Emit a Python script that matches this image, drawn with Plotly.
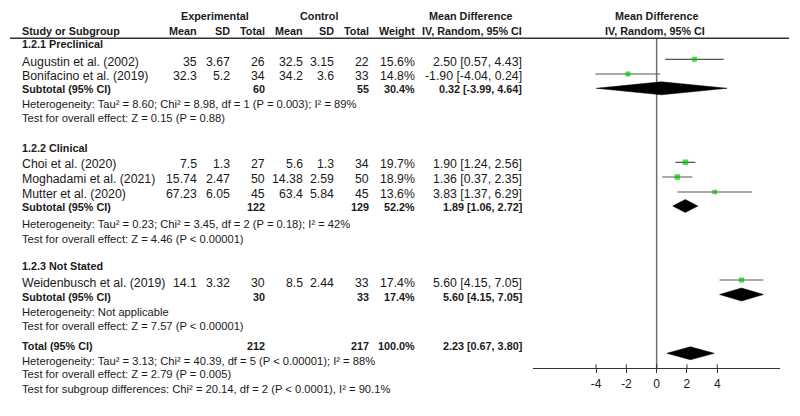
import plotly.graph_objects as go

# ---------------- data ----------------
studies = ["Augustin et al. (2002)", "Bonifacino et al. (2019)", "Choi et al. (2020)",
           "Moghadami et al. (2021)", "Mutter et al. (2020)", "Weidenbusch et al. (2019)"]
exp_mean = [35, 32.3, 7.5, 15.74, 67.23, 14.1]
exp_sd = [3.67, 5.2, 1.3, 2.47, 6.05, 3.32]
exp_n = [26, 34, 27, 50, 45, 30]
ctl_mean = [32.5, 34.2, 5.6, 14.38, 63.4, 8.5]
ctl_sd = [3.15, 3.6, 1.3, 2.59, 5.84, 2.44]
ctl_n = [22, 33, 34, 50, 45, 33]
weight = [15.6, 14.8, 19.7, 18.9, 13.6, 17.4]
md = [2.50, -1.90, 1.90, 1.36, 3.83, 5.60]
md_lo = [0.57, -4.04, 1.24, 0.37, 1.37, 4.15]
md_hi = [4.43, 0.24, 2.56, 2.35, 6.29, 7.05]

groups = ["1.2.1 Preclinical", "1.2.2 Clinical", "1.2.3 Not Stated"]
sub_exp_n = [60, 122, 30]
sub_ctl_n = [55, 129, 33]
sub_weight = [30.4, 52.2, 17.4]
sub_md = [0.32, 1.89, 5.60]
sub_lo = [-3.99, 1.06, 4.15]
sub_hi = [4.64, 2.72, 7.05]
sub_het = ["Heterogeneity: Tau² = 8.60; Chi² = 8.98, df = 1 (P = 0.003); I² = 89%",
           "Heterogeneity: Tau² = 0.23; Chi² = 3.45, df = 2 (P = 0.18); I² = 42%",
           "Heterogeneity: Not applicable"]
sub_test = ["Test for overall effect: Z = 0.15 (P = 0.88)",
            "Test for overall effect: Z = 4.46 (P < 0.00001)",
            "Test for overall effect: Z = 7.57 (P < 0.00001)"]

total_exp_n = 212
total_ctl_n = 217
total_weight = 100.0
total_md = 2.23
total_lo = 0.67
total_hi = 3.80
total_notes = ["Heterogeneity: Tau² = 3.13; Chi² = 40.39, df = 5 (P < 0.00001); I² = 88%",
               "Test for overall effect: Z = 2.79 (P = 0.005)",
               "Test for subgroup differences: Chi² = 20.14, df = 2 (P < 0.0001), I² = 90.1%"]

tick_vals = [-4, -2, 0, 2, 4]
tick_text = ["-4", "-2", "0", "2", "4"]

# ---------------- layout (pixel rows) ----------------
W, H = 800, 416
study_y = [61.7, 76.0, 164.3, 179.3, 194.0, 283.3]
group_title_y = [44.3, 147.7, 265.7]
sub_y = [89.3, 207.3, 297.0]
sub_het_y = [104.3, 224.0, 311.7]
sub_test_y = [118.3, 238.7, 326.0]
total_y = 346.0
total_notes_y = [361.0, 374.3, 389.3]
marker_y = [59.3, 74.0, 162.3, 177.0, 192.0, 280.0]
diamond_y = [88.3, 206.0, 294.5]
total_diamond_y = 353.3
axis_y = 368.3
header_line_y = 38.3
dh = 6.5

col_left = 20
col_right = {"em": 199.3, "esd": 232.3, "en": 266.7, "cm": 305.0, "csd": 335.7,
             "cn": 370.7, "w": 416.7, "md": 524.3}

FONT = "Liberation Sans, Arial, sans-serif"
FS = 12.3
FS_BOLD = 10.8
FS_NOTE = 11.2
TXT = "#1a1a1a"

fig = go.Figure()
ann = []


def txt(x, y, s, align="left", bold=False, size=None):
    if size is None:
        size = FS_BOLD if bold else FS
    if bold:
        s = "<b>" + s + "</b>"
    ann.append(dict(x=x / W, y=y, xref="paper", yref="y", text=s, showarrow=False,
                    xanchor=align, yanchor="middle",
                    font=dict(family=FONT, size=size, color=TXT)))


def fmt(v):
    return f"{v:g}"


def ci(m, l, h):
    return f"{m:.2f} [{l:.2f}, {h:.2f}]"


# headers
txt(214.7, 15.7, "Experimental", "center", True)
txt(318.5, 15.7, "Control", "center", True)
txt(470.0, 15.7, "Mean Difference", "center", True)
txt(656.3, 15.7, "Mean Difference", "center", True)
txt(col_left, 30.7, "Study or Subgroup", "left", True)
for key, lab in [("em", "Mean"), ("esd", "SD"), ("en", "Total"), ("cm", "Mean"),
                 ("csd", "SD"), ("cn", "Total"), ("w", "Weight"), ("md", "IV, Random, 95% CI")]:
    txt(col_right[key], 30.7, lab, "right", True)
txt(655.0, 30.7, "IV, Random, 95% CI", "center", True)

# group titles and study rows
for g, name in enumerate(groups):
    txt(col_left, group_title_y[g], name, "left", True)
for i, s in enumerate(studies):
    y = study_y[i]
    txt(col_left, y, s)
    txt(col_right["em"], y, fmt(exp_mean[i]), "right")
    txt(col_right["esd"], y, fmt(exp_sd[i]), "right")
    txt(col_right["en"], y, str(exp_n[i]), "right")
    txt(col_right["cm"], y, fmt(ctl_mean[i]), "right")
    txt(col_right["csd"], y, fmt(ctl_sd[i]), "right")
    txt(col_right["cn"], y, str(ctl_n[i]), "right")
    txt(col_right["w"], y, f"{weight[i]:.1f}%", "right")
    txt(col_right["md"], y, ci(md[i], md_lo[i], md_hi[i]), "right")

for g in range(len(groups)):
    y = sub_y[g]
    txt(col_left, y, "Subtotal (95% CI)", "left", True)
    txt(col_right["en"], y, str(sub_exp_n[g]), "right", True)
    txt(col_right["cn"], y, str(sub_ctl_n[g]), "right", True)
    txt(col_right["w"], y, f"{sub_weight[g]:.1f}%", "right", True)
    txt(col_right["md"], y, ci(sub_md[g], sub_lo[g], sub_hi[g]), "right", True)
    txt(col_left, sub_het_y[g], sub_het[g], size=FS_NOTE)
    txt(col_left, sub_test_y[g], sub_test[g], size=FS_NOTE)

txt(col_left, total_y, "Total (95% CI)", "left", True)
txt(col_right["en"], total_y, str(total_exp_n), "right", True)
txt(col_right["cn"], total_y, str(total_ctl_n), "right", True)
txt(col_right["w"], total_y, f"{total_weight:.1f}%", "right", True)
txt(col_right["md"], total_y, ci(total_md, total_lo, total_hi), "right", True)
for k, note in enumerate(total_notes):
    txt(col_left, total_notes_y[k], note, size=FS_NOTE)

# ---------------- plot marks ----------------
fig.add_trace(go.Scatter(x=[0, 0], y=[header_line_y, axis_y], mode="lines",
                         line=dict(color="#6e6e6e", width=1.5), hoverinfo="skip"))
tx, ty = [], []
for v in tick_vals:
    tx += [v, v, None]
    ty += [axis_y - 4, axis_y, None]
fig.add_trace(go.Scatter(x=tx, y=ty, mode="lines", line=dict(color="#333", width=1),
                         hoverinfo="skip"))
cx, cy = [], []
for i in range(len(studies)):
    cx += [md_lo[i], md_hi[i], None]
    cy += [marker_y[i], marker_y[i], None]
fig.add_trace(go.Scatter(x=cx, y=cy, mode="lines", line=dict(color="#555", width=1.2),
                         hoverinfo="skip"))
fig.add_trace(go.Scatter(x=md, y=marker_y, mode="markers",
                         marker=dict(symbol="square", color="#00c800",
                                     size=[2.6 + w * 0.15 for w in weight], line=dict(width=0)),
                         hoverinfo="skip"))


def diamond(m, l, h, y):
    fig.add_trace(go.Scatter(x=[l, m, h, m, l], y=[y, y - dh, y, y + dh, y], mode="lines",
                             fill="toself", fillcolor="black", line=dict(color="black", width=0.5),
                             hoverinfo="skip"))


for g in range(len(groups)):
    diamond(sub_md[g], sub_lo[g], sub_hi[g], diamond_y[g])
diamond(total_md, total_lo, total_hi, total_diamond_y)

fig.update_layout(
    width=W, height=H, margin=dict(l=0, r=0, t=0, b=0),
    paper_bgcolor="white", plot_bgcolor="white", showlegend=False,
    annotations=ann,
    shapes=[dict(type="line", xref="paper", yref="y", x0=10 / W, x1=789 / W,
                 y0=header_line_y, y1=header_line_y, line=dict(color="#333", width=1.5))],
    xaxis=dict(domain=[533.3 / W, 780 / W], range=[-8.14, 8.14], showgrid=False, zeroline=False,
               showline=True, linecolor="#333", linewidth=1, anchor="free",
               position=1 - axis_y / H, tickvals=tick_vals, ticktext=tick_text,
               ticks="outside", ticklen=4, tickcolor="#333", tickwidth=1,
               tickfont=dict(family=FONT, size=12, color=TXT), fixedrange=True),
    yaxis=dict(domain=[0, 1], range=[H, 0], visible=False, fixedrange=True),
)

fig.write_html("out.html")
